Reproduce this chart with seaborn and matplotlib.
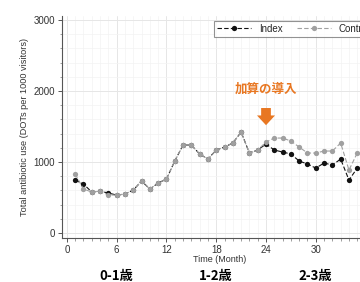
import seaborn as sns
import matplotlib.pyplot as plt
import pandas as pd
from matplotlib.ticker import MultipleLocator

months = list(range(1, 36))
index_use = [746, 690, 577, 590, 563, 535, 549, 605, 732, 620, 704, 760, 1014, 1239, 1239, 1113, 1042, 1169,
             1211, 1268, 1422, 1127, 1169, 1254, 1169, 1141, 1113, 1014, 972, 915, 986, 958, 1042, 746, 915]
control_use = [831, 620, 577, 590, 535, 535, 549, 605, 732, 620, 704, 760, 1014, 1239, 1239, 1113, 1042, 1169,
               1211, 1268, 1422, 1127, 1169, 1282, 1338, 1338, 1296, 1211, 1127, 1127, 1155, 1155, 1268, 887, 1127]
groups = ["Index", "Control"]
age_labels = ["0-1歳", "1-2歳", "2-3歳"]
age_pos = [6, 18, 30]

df = pd.DataFrame({
    "Month": months * 2,
    "Use": index_use + control_use,
    "Group": ["Index"] * len(months) + ["Control"] * len(months),
})

sns.set_style("white")
plt.rcParams['font.family'] = ['Liberation Sans', 'DejaVu Sans']

fig = plt.figure(figsize=(3.6, 2.82), dpi=100)
ax = fig.add_axes([0.172, 0.156, 0.878, 0.787])

sns.lineplot(data=df, x="Month", y="Use", hue="Group", hue_order=groups,
             palette={"Index": "#111111", "Control": "#a0a0a0"},
             style="Group", style_order=groups, dashes={"Index": (4, 2), "Control": (4, 2)},
             markers={"Index": "o", "Control": "o"}, markersize=3.8, markeredgewidth=0,
             linewidth=0.8, ax=ax)

ax.set_xlim(-0.6, 37.5)
ax.set_ylim(-70, 3056)
ax.xaxis.set_major_locator(MultipleLocator(6))
ax.xaxis.set_minor_locator(MultipleLocator(1))
ax.yaxis.set_major_locator(MultipleLocator(1000))
ax.yaxis.set_minor_locator(MultipleLocator(200))
ax.grid(which="major", color="#e6e6e6", linewidth=0.7)
ax.grid(which="minor", color="#f3f3f3", linewidth=0.5)
ax.set_axisbelow(True)
for s in ["top", "right"]:
    ax.spines[s].set_visible(False)
for s in ["left", "bottom"]:
    ax.spines[s].set_color("#555555")
    ax.spines[s].set_linewidth(0.8)
ax.tick_params(which="major", length=3, width=0.7, color="#555555", labelsize=7, labelcolor="#333333", pad=2)
ax.tick_params(which="minor", length=1.8, width=0.5, color="#777777")
ax.tick_params(axis="both", which="both", bottom=True, left=True)

ax.set_xlabel("Time (Month)", fontsize=6.5, color="#333333", labelpad=0)
ax.set_ylabel("Total antibiotic use (DOTs per 1000 visitors)", fontsize=6.6, color="#333333", labelpad=3)

leg = ax.legend(loc="upper right", bbox_to_anchor=(1.0, 1.0), ncol=2, fontsize=7, frameon=True,
                handlelength=3.5, columnspacing=1.5, borderpad=0.3, fancybox=False)
leg.get_frame().set_edgecolor("#777777")
leg.get_frame().set_linewidth(0.8)
leg.set_title(None)

jp = ['Noto Sans CJK JP', 'DejaVu Sans']
ax.text(24, 2030, "加算の導入", color="#e87722", fontsize=9, fontweight="bold", family=jp,
        ha="center", va="center")
ax.annotate("", xy=(24, 1480), xytext=(24, 1800),
            arrowprops=dict(arrowstyle="simple,head_width=1.3,head_length=0.7,tail_width=0.7",
                            color="#e87722", lw=0))

for lab, pos in zip(age_labels, age_pos):
    ax.text(pos, -0.172, lab, transform=ax.get_xaxis_transform(), ha="center", va="center",
            fontsize=9.5, fontweight="bold", family=jp, color="black")

fig.savefig("out.png", dpi=100)
